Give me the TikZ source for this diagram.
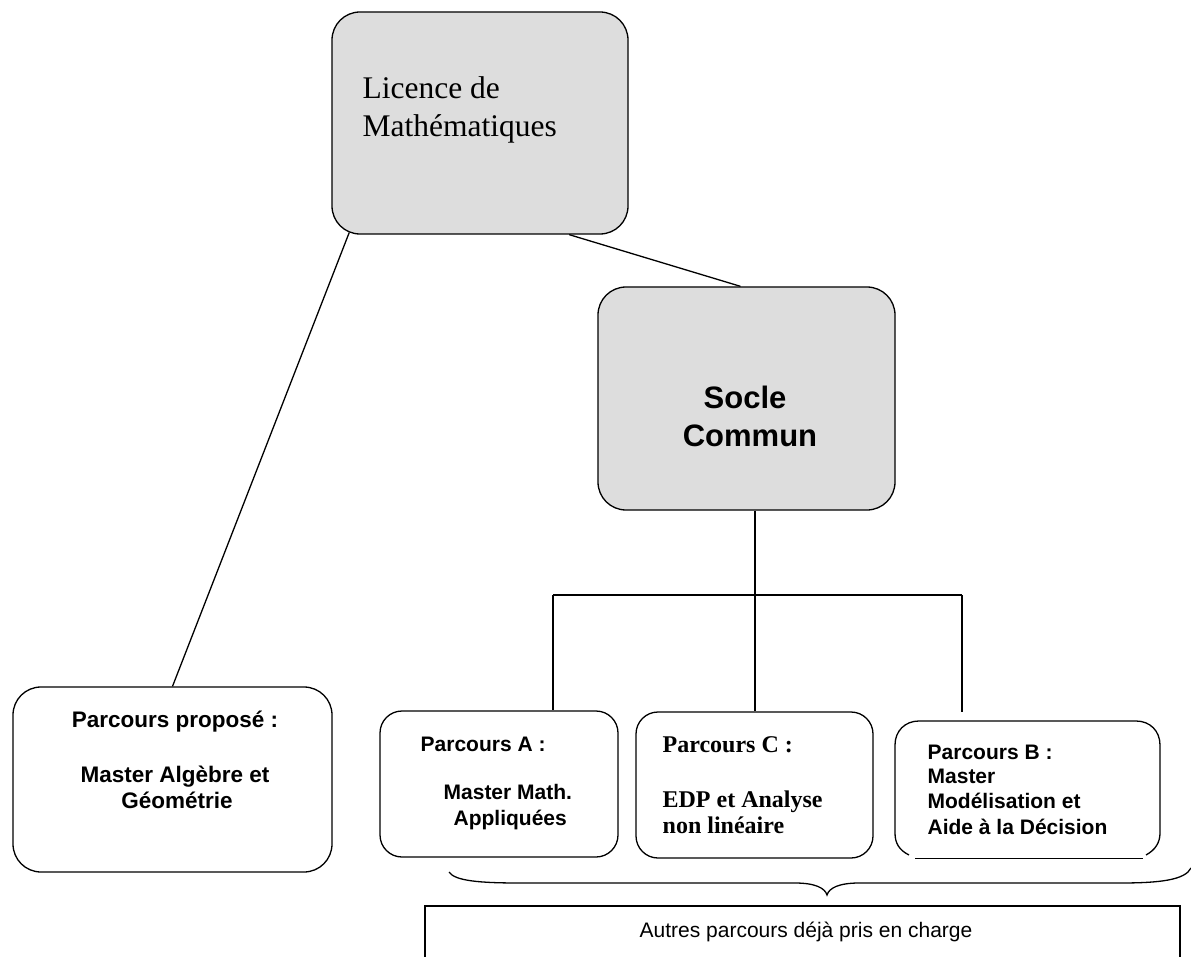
\documentclass[tikz,border=0pt]{standalone}
\usepackage{fontspec}
\setmainfont{Liberation Serif}
\setsansfont{Liberation Sans}
\usetikzlibrary{calc}
\definecolor{boxgray}{HTML}{DDDDDD}
\begin{document}
\begin{tikzpicture}[x=1pt,y=1pt,
  line width=1.3pt,
  bigbox/.style={draw, fill=boxgray, rounded corners=28pt, inner sep=0pt},
  smallbox/.style={draw, fill=white, rounded corners=22pt, inner sep=0pt},
  txt/.style={inner sep=0pt, font=\sffamily\bfseries\fontsize{21}{25}\selectfont},
  txtl/.style={inner sep=0pt, font=\sffamily\bfseries\fontsize{22.5}{26}\selectfont},
  serifb/.style={inner sep=0pt, font=\rmfamily\bfseries\fontsize{24}{27}\selectfont}
]
\useasboundingbox (0,0) rectangle (1191,-957);
\fill[white] (0,0) rectangle (1191,-957);

% boxes
\node[bigbox, minimum width=296pt, minimum height=222pt] (lic) at (480,-123) {};
\node[bigbox, minimum width=297pt, minimum height=223pt] (soc) at (746.5,-398.5) {};
\node[smallbox, rounded corners=28pt, minimum width=319pt, minimum height=185pt] (prop) at (172.5,-779.5) {};
\node[smallbox, minimum width=238pt, minimum height=146pt] (pa) at (499,-784) {};
\node[smallbox, minimum width=237pt, minimum height=146pt] (pc) at (754.5,-785) {};
\node[draw=none, inner sep=0pt, minimum width=265pt, minimum height=137pt] (pb) at (1027.5,-789.5) {};
\draw (909,-855) .. controls (899,-850) and (895,-843) .. (895,-833) -- (895,-745)
  .. controls (895,-731) and (905,-721) .. (919,-721) -- (1136,-721)
  .. controls (1150,-721) and (1160,-731) .. (1160,-745) -- (1160,-833)
  .. controls (1160,-843) and (1155,-850) .. (1146,-855);
\draw[line width=1pt] (915,-858) -- (1143,-858);

% texts
\node[inner sep=0pt, anchor=base west, font=\rmfamily\fontsize{31.5}{38}\selectfont] (lic1) at (362,-99) {Licence de};
\node[inner sep=0pt, anchor=base west, font=\rmfamily\fontsize{31.5}{38}\selectfont] (lic2) at (362,-137) {Mathématiques};

\node[inner sep=0pt, anchor=base, font=\sffamily\bfseries\fontsize{31}{38}\selectfont] (soc1) at (745,-408) {Socle};
\node[inner sep=0pt, anchor=base, font=\sffamily\bfseries\fontsize{31}{38}\selectfont] (soc2) at (750,-446) {Commun};

\node[txtl, anchor=base] (pr1) at (175,-727) {Parcours proposé :};
\node[txtl, anchor=base] (pr2) at (175,-782) {Master Algèbre et};
\node[txtl, anchor=base] (pr3) at (177,-808) {Géométrie};

\node[txt, anchor=base west] (pa1) at (420,-751) {Parcours A :};
\node[txt, anchor=base west] (pa2) at (443,-799) {Master Math.};
\node[txt, anchor=base west] (pa3) at (453,-825) {Appliquées};

\node[serifb, anchor=base west] (pc1) at (662,-752) {Parcours C :};
\node[serifb, anchor=base west] (pc2) at (662,-807) {EDP et Analyse};
\node[serifb, anchor=base west] (pc3) at (662,-833) {non linéaire};

\node[txt, anchor=base west] (pb1) at (927,-759) {Parcours B :};
\node[txt, anchor=base west] (pb2) at (927,-783) {Master};
\node[txt, anchor=base west] (pb3) at (927,-808) {Modélisation et};
\node[txt, anchor=base west] (pb4) at (927,-834) {Aide à la Décision};

% connectors
\draw ($(lic.south west)!0.06!(lic.south east)+(0,2)$) -- (prop.north);
\draw ($(lic.south west)!0.8!(lic.south east)$) -- ($(soc.north)+(-6,0)$);
\coordinate (bm) at ($(soc.south)+(8.5,-85)$);
\coordinate (bl) at (553,-595);
\coordinate (br) at (962,-595);
\coordinate (btop) at (962,-712);
\draw ($(soc.south)+(8.5,0)$) -- (bm);
\draw (bl) -- (br);
\draw (bl) -- (bl |- pa.north);
\draw (bm) -- (bm |- pc.north);
\draw (br) -- (btop);

% brace
\draw (449,-872) .. controls (455,-881) and (480,-883) .. (520,-883) -- (795,-883)
  .. controls (815,-883) and (825,-888) .. (827,-895)
  .. controls (829,-888) and (839,-883) .. (859,-883) -- (1120,-883)
  .. controls (1160,-883) and (1185,-880) .. (1191,-868);

% bottom rectangle (cut by the page edge)
\draw (425,-957) -- (425,-906) -- (1180,-906) -- (1180,-957);
\node[inner sep=0pt, anchor=base, font=\sffamily\fontsize{21}{25}\selectfont] (autres) at (806,-937) {Autres parcours déjà pris en charge};
\end{tikzpicture}
\end{document}
